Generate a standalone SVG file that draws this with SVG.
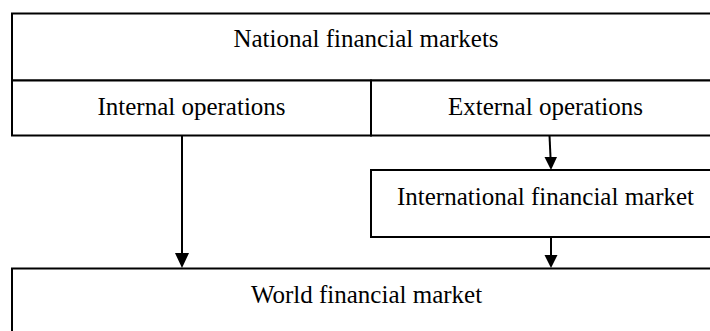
<svg xmlns="http://www.w3.org/2000/svg" width="710" height="331" viewBox="0 0 710 331">
  <style>
    .box { fill: #fff; stroke: #000; stroke-width: 2; }
    .lbl { font-family: "Liberation Serif", "Times New Roman", serif; font-size: 25px; fill: #000; text-anchor: middle; }
    .edge { stroke: #000; stroke-width: 2; fill: none; }
  </style>
  <defs>
    <marker id="arrow" viewBox="0 0 14 15" refX="7" refY="15" markerWidth="14" markerHeight="15" markerUnits="userSpaceOnUse" orient="auto-start-reverse">
      <path d="M0,0 L14,0 L7,15 Z" fill="#000"/>
    </marker>
  </defs>
  <rect width="710" height="331" fill="#fff"/>

  <g id="national-markets">
    <rect class="box" x="12" y="13.5" width="710" height="67"/>
    <text class="lbl" x="366" y="47">National financial markets</text>
  </g>
  <g id="internal-operations">
    <rect class="box" x="12" y="80.5" width="359" height="55"/>
    <text class="lbl" x="191.5" y="115">Internal operations</text>
  </g>
  <g id="external-operations">
    <rect class="box" x="371" y="80.5" width="351" height="55"/>
    <text class="lbl" x="545.5" y="115">External operations</text>
  </g>
  <g id="international-market">
    <rect class="box" x="371" y="170" width="351" height="67"/>
    <text class="lbl" x="545.5" y="205">International financial market</text>
  </g>
  <g id="world-market">
    <rect class="box" x="12" y="268.5" width="710" height="80"/>
    <text class="lbl" x="366.5" y="303">World financial market</text>
  </g>

  <g id="connectors">
    <path class="edge" d="M182,135.5 L182,253" />
    <path d="M175,253 L189,253 L182,268 Z" fill="#000"/>
    <path class="edge" d="M549.5,135.5 L550.5,157" />
    <path d="M544.5,157 L557,157 L551,170 Z" fill="#000"/>
    <path class="edge" d="M551,237 L551,255" />
    <path d="M544.5,255 L557.5,255 L551,268 Z" fill="#000"/>
  </g>
</svg>
